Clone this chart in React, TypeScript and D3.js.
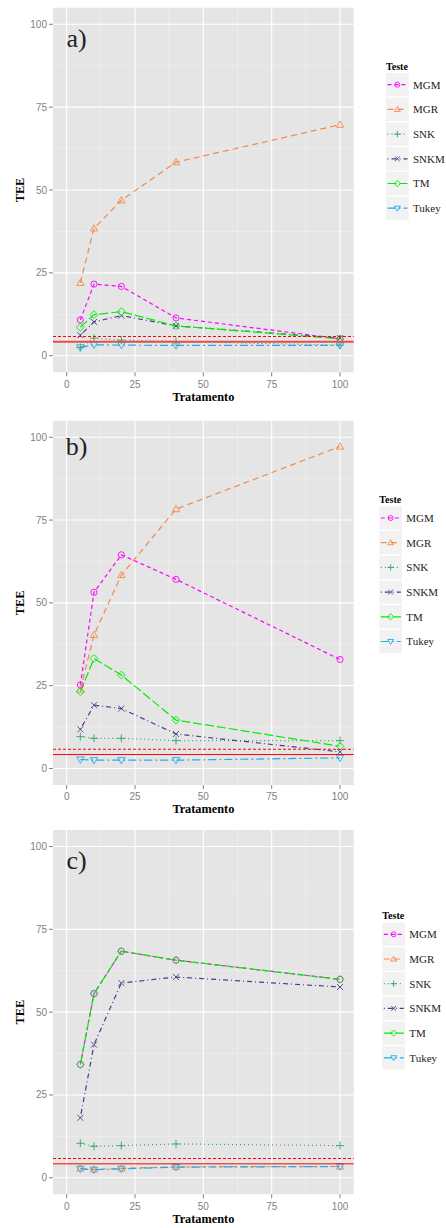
import React from "react";
import * as d3 from "d3";

// ---------- data ----------
const tratamento = [5, 10, 20, 40, 100];
const testes = ["MGM", "MGR", "SNK", "SNKM", "TM", "Tukey"];
const xTicks = [0, 25, 50, 75, 100];
const yTicks = [0, 25, 50, 75, 100];
const minorTicks = [12.5, 37.5, 62.5, 87.5];
const refLines = [4.2, 5.8];

// panel a)
const aMGM = [10.8, 21.6, 20.9, 11.4, 5.1];
const aMGR = [22.0, 38.4, 46.9, 58.4, 69.7];
const aSNK = [2.5, 5.3, 4.7, 4.3, 3.2];
const aSNKM = [6.2, 10.2, 12.1, 9.0, 5.3];
const aTM = [8.6, 12.4, 13.3, 9.0, 5.1];
const aTukey = [2.5, 3.3, 3.2, 3.1, 3.1];

// panel b)
const bMGM = [25.2, 53.2, 64.5, 57.1, 32.9];
const bMGR = [23.8, 40.3, 58.4, 78.3, 97.2];
const bSNK = [9.6, 9.1, 9.1, 8.4, 8.4];
const bSNKM = [11.8, 19.1, 18.1, 10.4, 5.0];
const bTM = [23.2, 33.2, 28.2, 14.6, 6.7];
const bTukey = [2.7, 2.5, 2.5, 2.5, 3.2];

// panel c)
const cMGM = [34.2, 55.6, 68.4, 65.7, 59.9];
const cMGR = [2.8, 2.5, 2.8, 3.3, 3.4];
const cSNK = [10.4, 9.5, 9.7, 10.2, 9.7];
const cSNKM = [18.1, 40.2, 58.8, 60.6, 57.6];
const cTM = [34.2, 55.6, 68.4, 65.7, 59.9];
const cTukey = [2.7, 2.4, 2.7, 3.2, 3.4];

const panelLabels = ["a)", "b)", "c)"];
const panelSeries = [
  [aMGM, aMGR, aSNK, aSNKM, aTM, aTukey],
  [bMGM, bMGR, bSNK, bSNKM, bTM, bTukey],
  [cMGM, cMGR, cSNK, cSNKM, cTM, cTukey],
];

// ---------- styles ----------
const colors: Record<string, string> = {
  MGM: "#FF00FF",
  MGR: "#F28A4A",
  SNK: "#2FA862",
  SNKM: "#483D8B",
  TM: "#00EE00",
  Tukey: "#1EAEEA",
};
const dashes: Record<string, string> = {
  MGM: "4,3",
  MGR: "6,4",
  SNK: "1,3",
  SNKM: "1,3,5,3",
  TM: "9,3",
  Tukey: "8,3,2,3",
};
const shapes: Record<string, string> = {
  MGM: "circle",
  MGR: "triangle",
  SNK: "plus",
  SNKM: "cross",
  TM: "diamond",
  Tukey: "triangleDown",
};

// layout for each panel (pixels)
const layouts = [
  { top: 7.7, bottom: 372.3, xTickY: 388, xTitleY: 401, legX: 386, legC: 84.7, labVal: 95.4, refW: 2, refColor: "#E84C4C" },
  { top: 420.7, bottom: 785, xTickY: 800, xTitleY: 813, legX: 379.3, legC: 518, labVal: 97, refW: 1, refColor: "#FF0000" },
  { top: 830, bottom: 1194.3, xTickY: 1210, xTitleY: 1222.5, legX: 382.3, legC: 934.3, labVal: 95.7, refW: 1, refColor: "#FF0000" },
];

const PL = 53;
const PR = 353.7;
const rowH = 24.7;
const serif = "'Liberation Serif', 'DejaVu Serif', serif";
const sans = "'Liberation Sans', Arial, sans-serif";

function shapePath(kind: string, cx: number, cy: number, k = 1): string {
  const r = 3.1 * k;
  switch (kind) {
    case "circle":
      return `M${cx - r},${cy}a${r},${r} 0 1,0 ${2 * r},0a${r},${r} 0 1,0 ${-2 * r},0Z`;
    case "triangle": {
      const h = 3.7 * k;
      return `M${cx},${cy - h}L${cx + h},${cy + h * 0.7}L${cx - h},${cy + h * 0.7}Z`;
    }
    case "triangleDown": {
      const h = 3.7 * k;
      return `M${cx},${cy + h}L${cx + h},${cy - h * 0.7}L${cx - h},${cy - h * 0.7}Z`;
    }
    case "plus": {
      const a = 4 * k;
      return `M${cx - a},${cy}L${cx + a},${cy}M${cx},${cy - a}L${cx},${cy + a}`;
    }
    case "cross": {
      const a = 3 * k;
      return `M${cx - a},${cy - a}L${cx + a},${cy + a}M${cx - a},${cy + a}L${cx + a},${cy - a}`;
    }
    case "diamond": {
      const a = 3.9 * k;
      return `M${cx},${cy - a}L${cx + a},${cy}L${cx},${cy + a}L${cx - a},${cy}Z`;
    }
  }
  return "";
}

function Panel({ idx }: { idx: number }) {
  const L = layouts[idx];
  const series = panelSeries[idx];
  const x = d3.scaleLinear().domain([-5, 105]).range([PL, PR]);
  const y = d3.scaleLinear().domain([-5, 105]).range([L.bottom, L.top]);
  const line = d3
    .line<number>()
    .x((_, i) => x(tratamento[i]))
    .y((v) => y(v));
  const midY = (L.top + L.bottom) / 2;
  return (
    <g>
      <rect x={PL} y={L.top} width={PR - PL} height={L.bottom - L.top} fill="#E5E5E5" />
      {minorTicks.map((t) => (
        <g key={"m" + t}>
          <line x1={x(t)} x2={x(t)} y1={L.top} y2={L.bottom} stroke="#F2F2F2" strokeWidth={0.6} />
          <line x1={PL} x2={PR} y1={y(t)} y2={y(t)} stroke="#F2F2F2" strokeWidth={0.6} />
        </g>
      ))}
      {xTicks.map((t) => (
        <line key={"gx" + t} x1={x(t)} x2={x(t)} y1={L.top} y2={L.bottom} stroke="#FFFFFF" strokeWidth={1.1} />
      ))}
      {yTicks.map((t) => (
        <line key={"gy" + t} x1={PL} x2={PR} y1={y(t)} y2={y(t)} stroke="#FFFFFF" strokeWidth={1.1} />
      ))}
      {xTicks.map((t) => (
        <g key={"xt" + t}>
          <line x1={x(t)} x2={x(t)} y1={L.bottom} y2={L.bottom + 4} stroke="#7F7F7F" strokeWidth={1} />
          <text x={x(t)} y={L.xTickY} textAnchor="middle" fontFamily={sans} fontSize={10} fill="#7F7F7F">
            {t}
          </text>
        </g>
      ))}
      {yTicks.map((t) => (
        <g key={"yt" + t}>
          <line x1={PL - 4} x2={PL} y1={y(t)} y2={y(t)} stroke="#7F7F7F" strokeWidth={1} />
          <text x={PL - 6} y={y(t)} dy="0.35em" textAnchor="end" fontFamily={sans} fontSize={10} fill="#7F7F7F">
            {t}
          </text>
        </g>
      ))}
      <text x={(PL + PR) / 2} y={L.xTitleY} textAnchor="middle" fontFamily={serif} fontWeight="bold" fontSize={12.3} fill="#000">
        Tratamento
      </text>
      <text
        transform={`translate(24,${midY}) rotate(-90)`}
        textAnchor="middle"
        fontFamily={serif}
        fontWeight="bold"
        fontSize={12.3}
        fill="#000"
      >
        TEE
      </text>
      {testes.map((name, s) => (
        <path
          key={"l" + name}
          d={line(series[s]) || ""}
          fill="none"
          stroke={colors[name]}
          strokeWidth={1.2}
          strokeDasharray={dashes[name]}
        />
      ))}
      {testes.map((name, s) =>
        series[s].map((v, i) => (
          <path
            key={"p" + name + i}
            d={shapePath(shapes[name], x(tratamento[i]), y(v))}
            fill="none"
            stroke={colors[name]}
            strokeWidth={0.9}
          />
        ))
      )}
      <line x1={PL} x2={PR} y1={y(refLines[1])} y2={y(refLines[1])} stroke="#FF0000" strokeWidth={1.1} strokeDasharray="3,2" />
      <line x1={PL} x2={PR} y1={y(refLines[0])} y2={y(refLines[0])} stroke={L.refColor} strokeWidth={L.refW} />
      <text x={x(3.6)} y={y(L.labVal)} dy="0.3em" textAnchor="middle" fontFamily={serif} fontSize={26} fill="#222">
        {panelLabels[idx]}
      </text>
      <text x={L.legX} y={L.legC - 15} fontFamily={serif} fontWeight="bold" fontSize={10} fill="#000">
        Teste
      </text>
      {testes.map((name, s) => {
        const cy = L.legC + s * rowH;
        const kx = L.legX;
        return (
          <g key={"lg" + name}>
            <rect x={kx} y={cy - rowH / 2 + 0.7} width={22.7} height={rowH - 1.4} fill="#F2F2F2" />
            <line
              x1={kx + 1.5}
              x2={kx + 21.5}
              y1={cy}
              y2={cy}
              stroke={colors[name]}
              strokeWidth={1.2}
              strokeDasharray={dashes[name]}
            />
            <path d={shapePath(shapes[name], kx + 11.35, cy, 0.8)} fill="none" stroke={colors[name]} strokeWidth={0.9} />
            <text x={kx + 27} y={cy} dy="0.35em" fontFamily={serif} fontSize={11} fill="#222">
              {name}
            </text>
          </g>
        );
      })}
    </g>
  );
}

export default function App() {
  return (
    <svg
      width={446}
      height={1228}
      style={{ position: "absolute", left: 0, top: 0, display: "block", background: "#FFFFFF" }}
    >
      <rect x={0} y={0} width={446} height={1228} fill="#FFFFFF" />
      {[0, 1, 2].map((i) => (
        <Panel key={i} idx={i} />
      ))}
    </svg>
  );
}
